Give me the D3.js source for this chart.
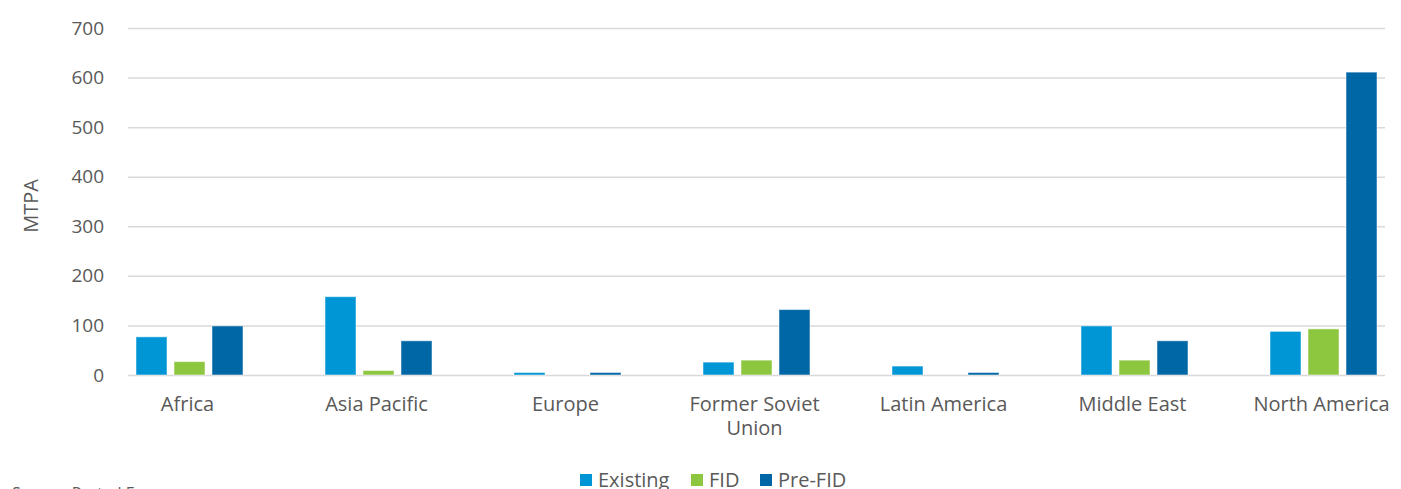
<!DOCTYPE html>
<html>
<head>
<meta charset="utf-8">
<script src="https://cdn.jsdelivr.net/npm/d3@7"></script>
<style>
  body { margin: 0; background: #fff; }
  text { font-family: "Open Sans", sans-serif; fill: #595959; }
</style>
</head>
<body>
<div id="chart"></div>
<script>
// data (MTPA)
const regions = ["Africa", "Asia Pacific", "Europe", "Former Soviet Union", "Latin America", "Middle East", "North America"];
const seriesNames = ["Existing", "FID", "Pre-FID"];
const existing = [77, 158, 5, 26, 18, 99, 88];
const fid      = [27, 9, 0, 30, 0, 30, 93];
const preFid   = [99, 69, 5, 132, 5, 69, 611];
const yTicks = [0, 100, 200, 300, 400, 500, 600, 700];
const colors = ["#0096d6", "#8dc63f", "#0067a6"];

const width = 1401, height = 489;
const plotLeft = 128, plotRight = 1385, plotTop = 28, plotBottom = 375;

const svg = d3.select("#chart")
  .append("svg")
    .attr("width", width)
    .attr("height", height);

const rows = regions.map((r, i) => ({ name: r, values: [existing[i], fid[i], preFid[i]] }));

// scales
const x0 = d3.scaleBand()
  .domain(regions)
  .range([93, 1416]);

const groupWidth = 107;
const x1 = d3.scaleBand()
  .domain(seriesNames)
  .range([0, groupWidth])
  .paddingInner(0.184);

const y = d3.scaleLinear()
  .domain([0, 700])
  .range([plotBottom, plotTop]);

// y axis with gridlines
const yAxis = svg.append("g")
  .attr("transform", "translate(" + plotLeft + ",0)")
  .call(d3.axisLeft(y).tickValues(yTicks).tickSize(-(plotRight - plotLeft)).tickPadding(24));
yAxis.select(".domain").remove();
yAxis.selectAll(".tick line")
  .attr("stroke", "#d9d9d9")
  .attr("stroke-width", 1.5);
yAxis.selectAll(".tick text")
  .style("font-size", "19px")
  .attr("fill", "#595959");

// axis title
svg.append("text")
  .attr("transform", "translate(38,206)rotate(-90)")
  .attr("text-anchor", "middle")
  .style("font-size", "20px")
  .text("MTPA");

// bars
const groups = svg.selectAll("g.region")
  .data(rows)
  .enter()
  .append("g")
    .attr("class", "region")
    .attr("transform", d => "translate(" + (x0(d.name) + x0.bandwidth() / 2 - groupWidth / 2 + 2) + ",0)");

groups.selectAll("rect")
  .data(d => d.values.map((v, i) => ({ key: seriesNames[i], value: v, color: colors[i] })))
  .enter()
  .filter(d => d.value > 0)
  .append("rect")
    .attr("x", d => x1(d.key))
    .attr("width", x1.bandwidth())
    .attr("y", d => y(d.value))
    .attr("height", d => y(0) - y(d.value))
    .attr("fill", d => d.color)
    .attr("stroke", "#ffffff")
    .attr("stroke-opacity", 0.5)
    .attr("stroke-width", 1);

// x axis labels
const xAxis = svg.append("g")
  .attr("transform", "translate(0," + plotBottom + ")")
  .call(d3.axisBottom(x0).tickSize(0).tickPadding(22));
xAxis.select(".domain").remove();
xAxis.selectAll(".tick text")
  .style("font-size", "20px")
  .attr("fill", "#595959")
  .each(function(d) {
    const t = d3.select(this);
    if (d === "Former Soviet Union") {
      t.text(null);
      t.append("tspan").attr("x", 0).attr("dy", "0.71em").text("Former Soviet");
      t.append("tspan").attr("x", 0).attr("dy", "1.2em").text("Union");
    }
  });

// legend
const legendX = [580, 691, 760];
const legend = svg.selectAll("g.legend")
  .data(seriesNames)
  .enter()
  .append("g")
    .attr("class", "legend")
    .attr("transform", (d, i) => "translate(" + legendX[i] + ",474)");
legend.append("rect")
  .attr("width", 12)
  .attr("height", 12)
  .attr("fill", (d, i) => colors[i]);
legend.append("text")
  .attr("x", 18)
  .attr("y", 6)
  .attr("dy", "0.35em")
  .style("font-size", "20px")
  .text(d => d);

// source note, mostly below the visible area
svg.append("text")
  .attr("x", 12)
  .attr("y", 499)
  .style("font-size", "16px")
  .text("Source: Rystad Energy");
</script>
</body>
</html>
